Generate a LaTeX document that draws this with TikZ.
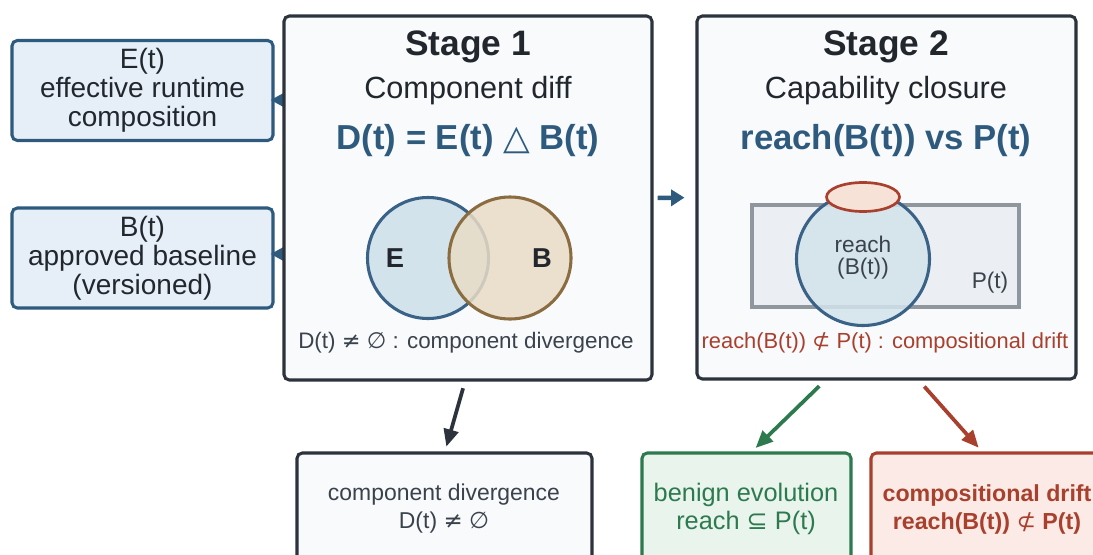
\documentclass[tikz,border=0pt]{standalone}
\usepackage{fontspec}
\setmainfont{Liberation Sans}
\newfontfamily\symfont{DejaVu Sans}
\usetikzlibrary{arrows.meta,shapes.geometric}

\definecolor{steel}{HTML}{2E5A7E}
\definecolor{ink}{HTML}{22272E}
\definecolor{frame}{HTML}{2C333C}
\definecolor{note}{HTML}{3A424C}
\definecolor{sidefill}{HTML}{E6EFF8}
\definecolor{panelfill}{HTML}{F8FAFC}
\definecolor{efill}{HTML}{D3E3EC}
\definecolor{estroke}{HTML}{3A6186}
\definecolor{bfill}{HTML}{E9DCC7}
\definecolor{bstroke}{HTML}{8A6C40}
\definecolor{pfill}{HTML}{EBEEF2}
\definecolor{pstroke}{HTML}{8F969E}
\definecolor{driftred}{HTML}{A8402D}
\definecolor{driftfill}{HTML}{FBEAE6}
\definecolor{capfill}{HTML}{F6E2D6}
\definecolor{okgreen}{HTML}{2E7A4F}
\definecolor{okfill}{HTML}{E8F4EC}

\newdimen\pxu \pxu=0.75pt
\newcommand\fsz[2]{\fontsize{#1}{#2}\selectfont}
\newcommand\sym[1]{{\symfont #1}}

\begin{document}
\begin{tikzpicture}[x=0.75pt,y=-0.75pt,
  sidebox/.style={draw=steel, fill=sidefill, line width=2.3pt, rounded corners=4pt,
    minimum width=261\pxu, minimum height=100\pxu, inner sep=0pt, align=center,
    text=ink, font=\fsz{21}{21.8}},
  panel/.style={draw=frame, fill=panelfill, line width=2.3pt, rounded corners=4pt, inner sep=0pt},
  outcome/.style={line width=2.3pt, rounded corners=4pt, inner sep=0pt, minimum height=147\pxu},
  txt/.style={inner sep=0pt, align=center},
  arr/.style={line width=2.8pt, -{Triangle[length=13pt,width=11pt]}},
  midarr/.style={line width=3.3pt, -{Triangle[length=10pt,width=12pt]}},
  sidearr/.style={line width=2.8pt, draw=steel, -{Triangle[length=10pt,width=10pt]}, shorten >=-4\pxu},
]
\useasboundingbox (0,0) rectangle (1093,554);
\clip (0,0) rectangle (1093,554);
\fill[white] (0,0) rectangle (1093,554);

% inputs on the left
\node[sidebox] (ebox) at (142.5,90.5) {E(t)\\effective runtime\\composition};
\node[sidebox] (bbox) at (142.5,258) {B(t)\\approved baseline\\(versioned)};

% feeds into the inputs, starting beneath the first stage panel
\coordinate (efeed) at (320,100);
\coordinate (bfeed) at (320,254);
\draw[sidearr] (efeed) -- (ebox.east |- efeed);
\draw[sidearr] (bfeed) -- (bbox.east |- bfeed);

% stage panels
\node[panel, minimum width=368\pxu, minimum height=364\pxu] (s1) at (468,198) {};
\node[panel, minimum width=379\pxu, minimum height=363\pxu] (s2) at (886.5,197.5) {};

% stage 1 contents
\node[txt, text=ink, font=\bfseries\fsz{26.5}{30}] (s1title) at (468,47) {Stage 1};
\node[txt, text=ink, font=\fsz{23}{26}] (s1sub) at (468,91) {Component diff};
\node[txt, text=steel, font=\bfseries\fsz{26}{30}] (s1eq) at (468,141)
  {D(t) = E(t) {\mdseries\sym{△}} B(t)};

\node[circle, draw=estroke, fill=efill, line width=2.3pt, minimum size=121\pxu, inner sep=0pt] (ecirc) at (428,258) {};
\node[circle, draw=bstroke, fill=bfill, fill opacity=0.85, line width=2.3pt, minimum size=122\pxu, inner sep=0pt] (bcirc) at (510,258) {};
\node[txt, text=ink, font=\bfseries\fsz{20.5}{24}] (elab) at (395,258) {E};
\node[txt, text=ink, font=\bfseries\fsz{20.5}{24}] (blab) at (542,258) {B};

\node[txt, text=note, font=\fsz{16.8}{20}] (s1note) at (466,343)
  {D(t) \sym{≠} \sym{∅} : component divergence};

% stage 2 contents
\node[txt, text=ink, font=\bfseries\fsz{26.5}{30}] (s2title) at (886,47) {Stage 2};
\node[txt, text=ink, font=\fsz{23}{26}] (s2sub) at (886,91) {Capability closure};
\node[txt, text=steel, font=\bfseries\fsz{26}{30}] (s2eq) at (886,141) {reach(B(t)) vs P(t)};

\node[draw=pstroke, fill=pfill, line width=2.3pt, minimum width=267\pxu, minimum height=102\pxu, inner sep=0pt] (prect) at (885.5,256) {};
\node[txt, text=note, font=\fsz{17}{20}] (plab) at (990,283) {P(t)};
\node[circle, draw=estroke, fill=efill, fill opacity=0.85, line width=2.3pt, minimum size=133\pxu, inner sep=0pt] (rcirc) at (863,259) {};
\node[ellipse, draw=driftred, fill=capfill, line width=2pt, minimum width=73\pxu, minimum height=29\pxu, inner sep=0pt] (rcap) at (863,197) {};
\node[txt, text=note, font=\fsz{17}{16.5}] (rlab) at (863,258) {reach\\(B(t))};

\node[txt, text=driftred, font=\fsz{16.4}{20}] (s2note) at (885,343)
  {reach(B(t)) \sym{⊄} P(t) : compositional drift};

\draw[midarr, draw=steel, fill=steel, shorten <=4\pxu, shorten >=11\pxu] (s1.east) -- (s2.west);

% outcomes
\node[outcome, draw=frame, fill=panelfill, minimum width=295\pxu] (d1) at (444.5,526.5) {};
\node[outcome, draw=okgreen, fill=okfill, minimum width=209\pxu] (g1) at (746.5,526.5) {};
\node[outcome, draw=driftred, fill=driftfill, minimum width=232\pxu] (r1) at (987,526.5) {};

\node[txt, text=note, font=\fsz{17.2}{21}] (d1text) at (444,509)
  {component divergence\\D(t) \sym{≠} \sym{∅}};
\node[txt, text=okgreen, font=\fsz{19}{21}] (g1text) at (746,509)
  {benign evolution\\reach \sym{⊆} P(t)};
\node[txt, text=driftred, font=\bfseries\fsz{17.4}{21}] (r1text) at (987,509)
  {compositional drift\\reach(B(t)) {\mdseries\sym{⊄}} P(t)};

\draw[arr, draw=frame, fill=frame, shorten <=7\pxu, shorten >=5\pxu]
  (s1.south -| 465,0) -- (d1.north -| 445,0);
\draw[arr, draw=okgreen, fill=okgreen, shorten <=8\pxu, shorten >=5\pxu]
  (s2.south -| 825,0) -- (g1.north -| 752,0);
\draw[arr, draw=driftred, fill=driftred, shorten <=8\pxu, shorten >=5\pxu]
  (s2.south -| 919,0) -- (r1.north -| 982,0);
\end{tikzpicture}
\end{document}
